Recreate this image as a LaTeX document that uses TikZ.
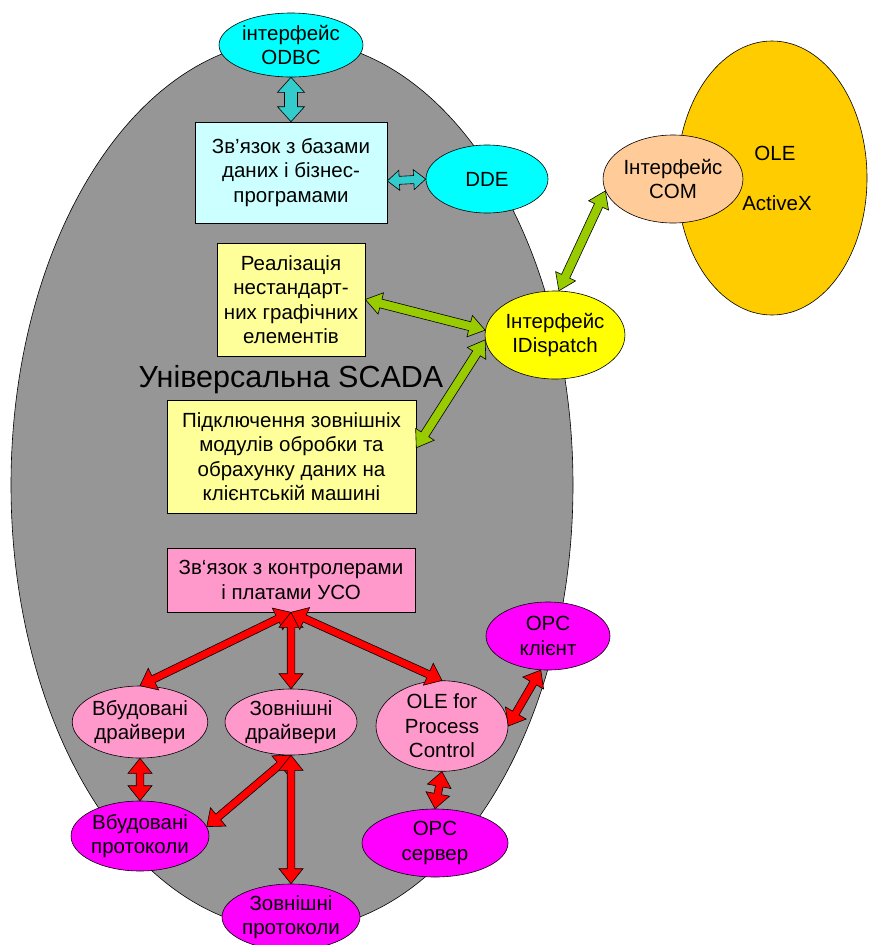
\documentclass[tikz,border=0pt]{standalone}
\usepackage{fontspec}
\setmainfont{Liberation Sans}
\usetikzlibrary{shapes.geometric,calc}
\definecolor{scgray}{RGB}{150,150,150}
\definecolor{lcyan}{RGB}{204,255,255}
\definecolor{cyanell}{RGB}{0,255,255}
\definecolor{tealarr}{RGB}{51,204,204}
\definecolor{lyellow}{RGB}{255,255,153}
\definecolor{yellell}{RGB}{255,255,0}
\definecolor{greenarr}{RGB}{153,204,0}
\definecolor{comc}{RGB}{255,204,153}
\definecolor{olec}{RGB}{255,204,0}
\definecolor{pinkc}{RGB}{255,153,204}
\definecolor{magc}{RGB}{255,0,255}
\definecolor{redarr}{RGB}{255,0,0}
% #1 colour, #2 shaft half-width, #3 head half-width, #4 head length, #5 from, #6 to
\newcommand\blockarrow[6]{%
  \coordinate (ba1) at ($(#5)!#4!(#6)$);
  \coordinate (ba2) at ($(#6)!#4!(#5)$);
  \draw[fill=#1, line width=0.6pt, line join=miter]
    (#5) -- ($(ba1)!#3!90:(#5)$) -- ($(ba1)!#2!90:(#5)$)
    -- ($(ba2)!#2!-90:(#6)$) -- ($(ba2)!#3!-90:(#6)$) -- (#6)
    -- ($(ba2)!#3!90:(#6)$) -- ($(ba2)!#2!90:(#6)$)
    -- ($(ba1)!#2!-90:(#5)$) -- ($(ba1)!#3!-90:(#5)$) -- cycle;
}
\begin{document}
\begin{tikzpicture}[x=1pt,y=-1pt,
  txt/.style={font=\fontsize{20.5}{24.5}\selectfont, align=center, text=black},
  ell/.style={ellipse, draw=black, line width=0.6pt, inner sep=0pt, txt},
  box/.style={rectangle, draw=black, line width=0.6pt, inner sep=0pt, txt}]
\useasboundingbox (0,0) rectangle (868,945);

% big areas
\node[ellipse, draw=black, line width=0.6pt, fill=scgray, minimum width=562pt, minimum height=890pt, inner sep=0pt] (scada) at (292,485) {};
\node[ell, fill=olec, minimum width=190pt, minimum height=274pt] (ole) at (772,178) {};
\node[txt] (oletxt) at (775,153) {OLE};
\node[txt] (axtxt) at (777,203) {ActiveX};
\node[txt, font=\fontsize{30.5}{36}\selectfont, anchor=base, inner sep=0pt] (scadatxt) at (291,387) {Універсальна SCADA};

% upper part
\node[ell, fill=cyanell, minimum width=144pt, minimum height=64pt] (odbc) at (291,45) {інтерфейс\\ODBC};
\node[box, fill=lcyan, minimum width=192pt, minimum height=101pt] (db) at (291,172.5) {Зв’язок з базами\\даних і бізнес-\\програмами};
\node[ell, fill=cyanell, minimum width=122pt, minimum height=68pt] (dde) at (487,179) {DDE};
\node[box, fill=lyellow, minimum width=148pt, minimum height=113pt] (real) at (291,299.5) {Реалізація\\нестандарт-\\них графічних\\елементів};
\node[box, fill=lyellow, minimum width=249pt, minimum height=113pt] (pidk) at (291.5,456.5) {Підключення зовнішніх\\модулів обробки та\\обрахунку даних на\\клієнтській машині};
\node[ell, fill=yellell, minimum width=132pt, minimum height=88pt] (idisp) at (555,335) {Інтерфейс\\IDispatch};
\node[ell, fill=comc, minimum width=132pt, minimum height=88pt] (com) at (673,179) {Інтерфейс\\COM};

% lower part
\node[box, fill=pinkc, minimum width=248pt, minimum height=64pt] (uso) at (291,580) {Зв‘язок з контролерами\\і платами УСО};
\node[ell, fill=pinkc, minimum width=132pt, minimum height=72pt] (vd) at (140,722) {Вбудовані\\драйвери};
\node[ell, fill=pinkc, minimum width=132pt, minimum height=66pt] (zd) at (291,722) {Зовнішні\\драйвери};
\node[ell, fill=pinkc, minimum width=132pt, minimum height=88pt] (olepc) at (442,726) {OLE for\\Process\\Control};
\node[ell, fill=magc, minimum width=124pt, minimum height=68pt] (opck) at (548,636) {OPC\\клієнт};
\node[ell, fill=magc, minimum width=132pt, minimum height=70pt] (vp) at (140,836) {Вбудовані\\протоколи};
\node[ell, fill=magc, minimum width=132pt, minimum height=66pt] (zp) at (291,917) {Зовнішні\\протоколи};
\node[ell, fill=magc, minimum width=146pt, minimum height=68pt] (opcs) at (435,843) {OPC\\сервер};

% connectors
\blockarrow{tealarr}{6.5pt}{13.5pt}{15pt}{odbc.south}{db.north}
\blockarrow{tealarr}{4pt}{10pt}{12pt}{db.-5}{dde.west}
\blockarrow{greenarr}{4.5pt}{11pt}{16pt}{com.190}{idisp.85}
\blockarrow{greenarr}{4.5pt}{11pt}{16pt}{real.east}{idisp.176}
\blockarrow{greenarr}{4.5pt}{11pt}{16pt}{pidk.4}{idisp.184}
\blockarrow{redarr}{3.8pt}{12pt}{15pt}{uso.south}{vd.north}
\blockarrow{redarr}{3.8pt}{12pt}{15pt}{uso.south}{zd.north}
\blockarrow{redarr}{3.8pt}{12pt}{15pt}{uso.south}{olepc.north}
\blockarrow{redarr}{3.8pt}{12pt}{15pt}{opck.258}{olepc.east}
\blockarrow{redarr}{3.8pt}{12pt}{15pt}{vd.south}{vp.north}
\blockarrow{redarr}{3.8pt}{12pt}{15pt}{zd.south}{vp.8}
\blockarrow{redarr}{3.8pt}{12pt}{15pt}{zd.south}{zp.north}
\blockarrow{redarr}{3.8pt}{12pt}{15pt}{olepc.south}{opcs.north}
\end{tikzpicture}
\end{document}
